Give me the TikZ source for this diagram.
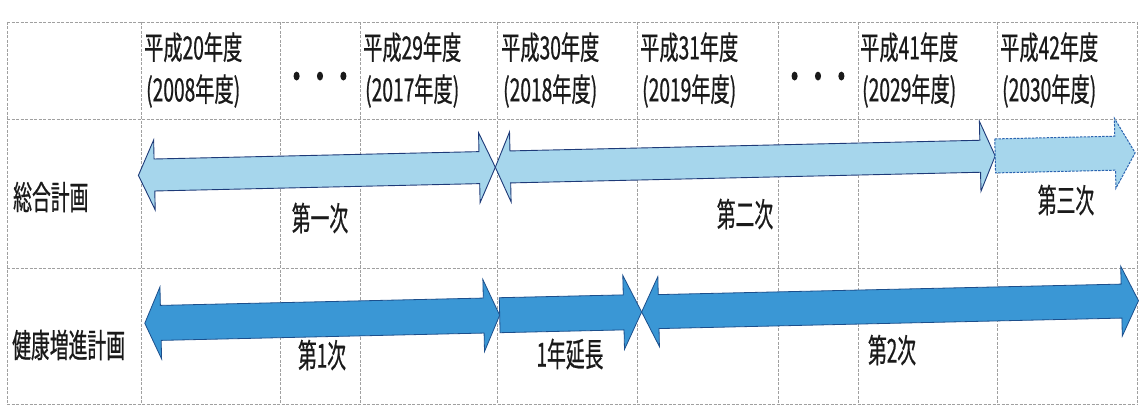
\documentclass[tikz,border=0pt]{standalone}
\usepackage{fontspec}
\newfontfamily\jp[FakeStretch=0.57,FakeBold=0.6]{Noto Sans CJK JP}
\newfontfamily\jph[FakeStretch=0.6,FakeBold=0.6]{Noto Sans CJK JP}
\newfontfamily\jpdot[FakeStretch=0.65,FakeBold=3]{Noto Sans CJK JP}
\definecolor{gridc}{HTML}{A0A0A0}
\definecolor{lightfill}{HTML}{A6D6EC}
\definecolor{lightline}{HTML}{1E3A78}
\definecolor{dashline}{HTML}{2B64B0}
\definecolor{darkfill}{HTML}{3A97D5}
\definecolor{darkline}{HTML}{1C4F8C}
\definecolor{txt}{HTML}{1A1A1A}
\newcommand\mydblarrow[7]{\draw[#1] (#2,#4) -- ({#2+#7},{#4-#6}) -- ({#2+#7},{#4-#5}) -- ({#3-#7},{#4-#5}) -- ({#3-#7},{#4-#6}) -- (#3,#4) -- ({#3-#7},{#4+#6}) -- ({#3-#7},{#4+#5}) -- ({#2+#7},{#4+#5}) -- ({#2+#7},{#4+#6}) -- cycle;}
\newcommand\myrarrow[7]{\draw[#1] (#2,{#4-#5}) -- ({#3-#7},{#4-#5}) -- ({#3-#7},{#4-#6}) -- (#3,#4) -- ({#3-#7},{#4+#6}) -- ({#3-#7},{#4+#5}) -- (#2,{#4+#5}) -- cycle;}
\begin{document}
\begin{tikzpicture}[x=1pt,y=-1pt,
  gridline/.style={gridc, line width=0.6pt, dash pattern=on 3pt off 1.5pt},
  lbl/.style={font=\jp\fontsize{33}{42}\selectfont, text=txt, inner sep=0pt},
  hdr/.style={font=\jph\fontsize{32}{42}\selectfont, text=txt, inner sep=0pt, align=left, anchor=west},
  dotsnode/.style={font=\jpdot\fontsize{36}{36}\selectfont, text=txt, inner sep=0pt},
  soarrow/.style={fill=lightfill, draw=lightline, line width=0.9pt, line join=miter},
  soarrowdash/.style={fill=lightfill, draw=dashline, line width=1pt, dash pattern=on 2.5pt off 1.2pt},
  kearrow/.style={fill=darkfill, draw=darkline, line width=0.8pt, line join=miter}
]
\useasboundingbox (0,0) rectangle (1139,414);
\fill[white] (0,0) rectangle (1139,414);
% grid
\foreach \gx in {7,141,280,360,497,637,778,858,997,1137}
  \draw[gridline] (\gx,22) -- (\gx,404);
\foreach \gy in {22,119,268,404}
  \draw[gridline] (7,\gy) -- (1137,\gy);
% headers
\node[hdr] (h1) at (144,70) {平成20年度\\\hspace*{2pt}(2008年度)};
\node[hdr] (h2) at (363,70) {平成29年度\\\hspace*{2pt}(2017年度)};
\node[hdr] (h3) at (501,70) {平成30年度\\\hspace*{2pt}(2018年度)};
\node[hdr] (h4) at (640,70) {平成31年度\\\hspace*{2pt}(2019年度)};
\node[hdr] (h5) at (860,70) {平成41年度\\\hspace*{2pt}(2029年度)};
\node[hdr] (h6) at (1000,70) {平成42年度\\\hspace*{2pt}(2030年度)};
\node[dotsnode] (dots1) at (320,81) {・・・};
\node[dotsnode] (dots2) at (818,81) {・・・};
% row labels
\node[lbl, anchor=west] (sogo) at (13,197) {総合計画};
\node[lbl, anchor=west] (kenko) at (12,345) {健康増進計画};
% arrows
\begin{scope}[rotate around={1.3:(640,240)}]
  \mydblarrow{soarrow}{140}{497}{164}{16}{35}{16}
  \mydblarrow{soarrow}{497}{997}{164}{16}{35}{15}
  \myrarrow{soarrowdash}{997}{1137}{164}{17}{35}{20}
  \mydblarrow{kearrow}{143}{498}{312}{17.5}{36}{16}
  \myrarrow{kearrow}{498}{640}{312}{17.5}{37}{18}
  \mydblarrow{kearrow}{640}{1137}{312}{17}{35}{17}
\end{scope}
% arrow labels
\node[lbl] (dai1ji) at (320,218) {第一次};
\node[lbl] (dai2ji) at (745,214) {第二次};
\node[lbl] (dai3ji) at (1066,200) {第三次};
\node[lbl] (k1) at (322,355) {第1次};
\node[lbl] (ext) at (570,354) {1年延長};
\node[lbl] (k2) at (892,350) {第2次};
\end{tikzpicture}
\end{document}
